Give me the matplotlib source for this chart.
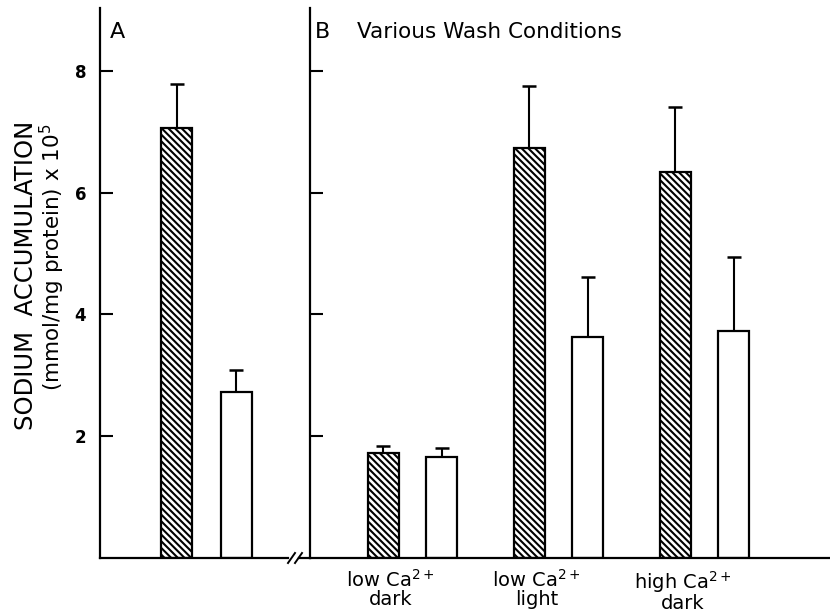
import matplotlib
matplotlib.use("Agg")
import matplotlib.pyplot as plt
from matplotlib.lines import Line2D
import numpy as np

plt.rcParams['font.family'] = ['DejaVu Sans']
plt.rcParams['mathtext.default'] = 'regular'
plt.rcParams['hatch.linewidth'] = 1.5
plt.rcParams['hatch.color'] = 'black'

# panel A: two bars (hatched, open)
a_values = [7.06, 2.72]
a_errors = [0.73, 0.36]

# panel B: various wash conditions
b_conditions = ["low Ca$^{2+}$\ndark", "low Ca$^{2+}$\nlight", "high Ca$^{2+}$\ndark"]
b_hatched = [1.73, 6.73, 6.34]
b_hatched_err = [0.11, 1.02, 1.07]
b_open = [1.66, 3.63, 3.73]
b_open_err = [0.15, 0.98, 1.22]

yticks = [2, 4, 6, 8]

W, H = 830, 616
fig = plt.figure(figsize=(W / 100, H / 100), dpi=100)


def fx(px):
    return px / W


def fy(py):
    return 1 - py / H


top, base = 8, 558
axA = fig.add_axes([fx(100), fy(base), fx(288) - fx(100), fy(top) - fy(base)])
axB = fig.add_axes([fx(310), fy(base), fx(830) - fx(310), fy(top) - fy(base)])

ymax = (base - top) / 60.9
hatch = '\\\\\\\\\\'
bar_kw = dict(edgecolor='black', linewidth=1.6, zorder=2)
err_kw = dict(elinewidth=1.5, capthick=1.8, capsize=5)

# panel A
axA.bar(0, a_values[0], width=0.52, color='white', hatch=hatch, **bar_kw)
axA.bar(1, a_values[1], width=0.52, color='white', **bar_kw)
axA.errorbar([0, 1], a_values, yerr=[[0, 0], a_errors], fmt='none',
             ecolor='black', zorder=1, **err_kw)
axA.set_xlim(-1.29, 1.87)
axA.set_ylim(0, ymax)
axA.set_xticks([])
axA.set_yticks(yticks)
axA.set_yticklabels([str(t) for t in yticks], fontsize=12, fontweight='bold')
axA.tick_params(axis='y', direction='in', length=9, width=1.5, pad=10)
for s in ['top', 'right']:
    axA.spines[s].set_visible(False)
for s in ['left', 'bottom']:
    axA.spines[s].set_linewidth(1.6)
axA.text(0.05, 0.975, "A", transform=axA.transAxes, fontsize=16, va='top', ha='left')

# panel B
x = np.arange(len(b_conditions))
off = 0.2
axB.bar(x - off, b_hatched, width=0.212, color='white', hatch=hatch, **bar_kw)
axB.bar(x + off, b_open, width=0.212, color='white', **bar_kw)
axB.errorbar(x - off, b_hatched, yerr=[np.zeros(len(x)), b_hatched_err], fmt='none',
             ecolor='black', zorder=1, **err_kw)
axB.errorbar(x + off, b_open, yerr=[np.zeros(len(x)), b_open_err], fmt='none',
             ecolor='black', zorder=1, **err_kw)
axB.set_xlim(-0.702, 2.86)
axB.set_ylim(0, ymax)
axB.set_xticks([])
axB.set_yticks(yticks)
axB.set_yticklabels([])
axB.tick_params(axis='y', direction='in', length=9, width=1.5)
for s in ['top', 'right']:
    axB.spines[s].set_visible(False)
for s in ['left', 'bottom']:
    axB.spines[s].set_linewidth(1.6)
for xi, lab in zip(x, b_conditions):
    axB.text(xi - 0.15, -0.18, lab, ha='center', va='top', fontsize=14,
             multialignment='center', linespacing=0.95)
axB.text(0.01, 0.975, "B", transform=axB.transAxes, fontsize=16, va='top', ha='left')
axB.text(0.09, 0.975, "Various Wash Conditions", transform=axB.transAxes,
         fontsize=15.5, va='top', ha='left')

# axis break marks
lw = 1.4
fig.add_artist(Line2D([fx(288), fx(295)], [fy(563), fy(553)], color='black', lw=lw))
fig.add_artist(Line2D([fx(295), fx(302)], [fy(563), fy(553)], color='black', lw=lw))
fig.add_artist(Line2D([fx(299), fx(310)], [fy(base), fy(base)], color='black', lw=1.6))

# y label
fig.text(fx(26), fy(275), "SODIUM  ACCUMULATION", rotation=90, ha='center', va='center',
         fontsize=17.5)
fig.text(fx(52), fy(257), "(mmol/mg protein) x 10$^{5}$", rotation=90, ha='center',
         va='center', fontsize=15.5)

fig.savefig("out.png", dpi=100)
